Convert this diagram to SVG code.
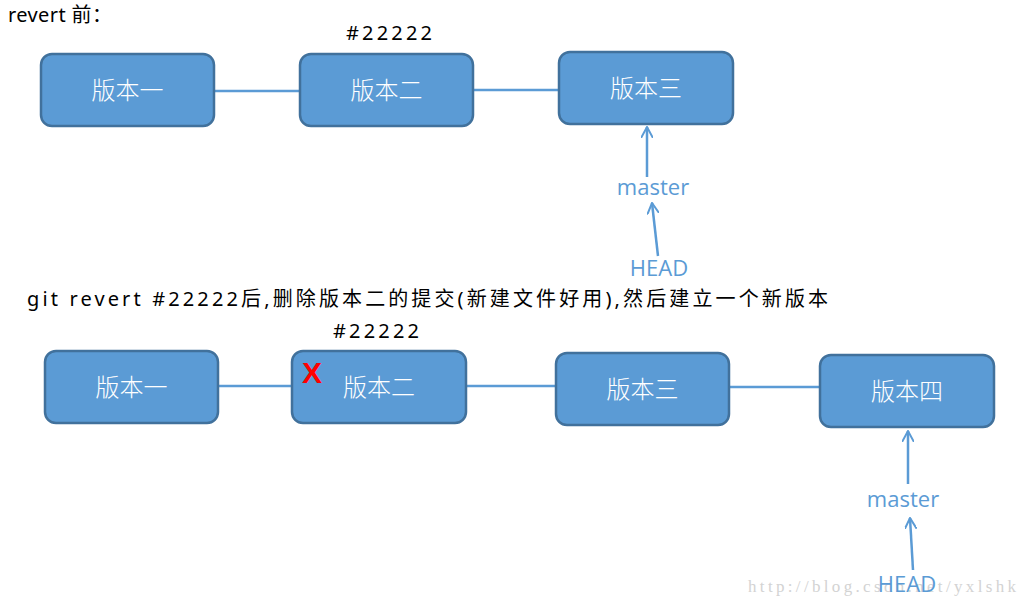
<svg xmlns="http://www.w3.org/2000/svg" width="1029" height="607" viewBox="0 0 1029 607">
<defs>
<style>
.box{fill:#5B9BD5;stroke:#41719C;stroke-width:2.5}
.bt{fill:#fff;font-family:"Noto Sans CJK SC","Noto Sans",sans-serif;font-size:24px;text-anchor:middle;font-weight:300}
.lab{fill:#000;font-family:"Noto Sans","Noto Sans CJK SC",sans-serif;font-size:20px}
.ref{fill:#5B9BD5;font-family:"Open Sans","Noto Sans",sans-serif;font-size:22px;text-anchor:middle}
.ln{stroke:#5B9BD5;stroke-width:2.5;fill:none}
.ar{stroke:#5B9BD5;stroke-width:2.5;fill:none;marker-end:url(#oa)}
</style>
<marker id="oa" viewBox="0 0 12 12" refX="11" refY="6" markerWidth="12" markerHeight="12" markerUnits="userSpaceOnUse" orient="auto">
<path d="M0,0 L11,6 L0,12" fill="none" stroke="#5B9BD5" stroke-width="2"/>
</marker>
</defs>
<rect width="1029" height="607" fill="#fff"/>
<text x="8" y="22" class="lab" textLength="104">revert 前：</text>
<text x="346" y="40" class="lab" textLength="86">#22222</text>
<text x="27" y="306" class="lab" textLength="801">git revert #22222后,删除版本二的提交(新建文件好用),然后建立一个新版本</text>
<text x="333" y="338" class="lab" textLength="86">#22222</text>
<text x="748" y="592" font-family="Liberation Serif,serif" font-size="17" fill="#D3D3D3" textLength="268">http://blog.csdn.net/yxlshk</text>
<g id="connectors">
<line class="ln" x1="214" y1="91" x2="300" y2="91"/>
<line class="ln" x1="473" y1="90" x2="559" y2="90"/>
<line class="ar" x1="647" y1="177" x2="647" y2="127"/>
<line class="ar" x1="658" y1="256" x2="652" y2="203"/>
<line class="ln" x1="218" y1="386" x2="292" y2="386"/>
<line class="ln" x1="466" y1="386" x2="556" y2="386"/>
<line class="ln" x1="729" y1="387" x2="820" y2="387"/>
<line class="ar" x1="908" y1="484" x2="908" y2="431"/>
<line class="ar" x1="913" y1="570" x2="910" y2="518"/>
</g>
<g id="v1"><rect class="box" x="41" y="54" width="173" height="72" rx="11"/><text class="bt" x="127.5" y="99">版本一</text></g>
<g id="v2"><rect class="box" x="300" y="54" width="173" height="72" rx="11"/><text class="bt" x="386.5" y="99">版本二</text></g>
<g id="v3"><rect class="box" x="559" y="52" width="174" height="72" rx="11"/><text class="bt" x="646" y="97">版本三</text></g>
<g id="master1"><text class="ref" x="653" y="195">master</text></g>
<g id="head1"><text class="ref" x="659" y="276">HEAD</text></g>
<g id="b1"><rect class="box" x="45" y="351" width="173" height="72" rx="11"/><text class="bt" x="131.5" y="396">版本一</text></g>
<g id="b2"><rect class="box" x="292" y="351" width="174" height="72" rx="11"/><text class="bt" x="379" y="396">版本二</text>
<text x="312" y="383" font-family="Liberation Sans,Arial,sans-serif" font-size="30" font-weight="bold" fill="#FF0000" text-anchor="middle">X</text></g>
<g id="b3"><rect class="box" x="556" y="353" width="173" height="72" rx="11"/><text class="bt" x="642.5" y="398">版本三</text></g>
<g id="b4"><rect class="box" x="820" y="355" width="174" height="72" rx="11"/><text class="bt" x="907" y="400">版本四</text></g>
<g id="master2"><text class="ref" x="903" y="507">master</text></g>
<g id="head2"><text class="ref" x="907" y="592">HEAD</text></g>
</svg>
